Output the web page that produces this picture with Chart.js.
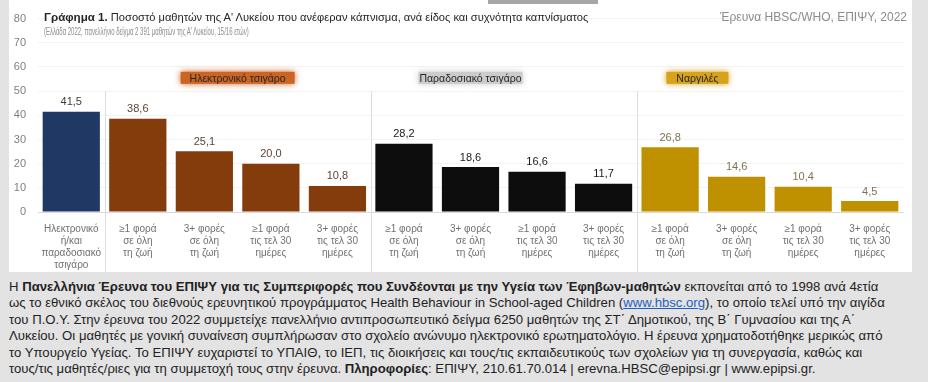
<!DOCTYPE html>
<html>
<head>
<meta charset="utf-8">
<script src="https://cdn.jsdelivr.net/npm/chart.js@4/dist/chart.umd.min.js"></script>
<style>
  body { margin: 0; background: #e3e3e3; width: 928px; height: 382px; overflow: hidden; font-family: "Liberation Sans", Arial, sans-serif; }
  #panel { position: absolute; left: 9px; top: 0; width: 903px; height: 272px; background: #fff; }
  #chartBox { position: absolute; left: 0; top: 0; width: 903px; height: 272px; }
  #topMark { position: absolute; left: 488px; top: 0; width: 110px; height: 4px; background: #a6a6a6; }
  .title { position: absolute; left: 44px; top: 10px; font-size: 11.1px; color: #262626; white-space: nowrap; }
  .title b { font-size: 11.6px; }
  .subtitle { position: absolute; left: 44px; top: 25px; font-size: 10.5px; color: #8c8c8c; white-space: nowrap; transform: scaleX(0.57); transform-origin: left top; }
  .source { position: absolute; right: 21px; top: 10px; font-size: 12px; color: #8c8c8c; white-space: nowrap; }
  #note { position: absolute; left: 9px; top: 279px; font-size: 13.15px; line-height: 16.4px; color: #222; white-space: nowrap; }
  #note a { color: #1f5fbf; text-decoration: underline; }
</style>
</head>
<body>
<div id="panel"><div id="chartBox"><canvas id="smoking_chart_area"></canvas></div></div>
<div id="topMark"></div>
<div class="title"><b>Γράφημα 1.</b> Ποσοστό μαθητών της Α' Λυκείου που ανέφεραν κάπνισμα, ανά είδος και συχνότητα καπνίσματος</div>
<div class="subtitle">(Ελλάδα 2022, πανελλήνιο δείγμα 2 391 μαθητών της Α' Λυκείου, 15/16 ετών)</div>
<div class="source">Έρευνα HBSC/WHO, ΕΠΙΨΥ, 2022</div>
<div id="note">
Η <b>Πανελλήνια Έρευνα του ΕΠΙΨΥ για τις Συμπεριφορές που Συνδέονται με την Υγεία των Έφηβων-μαθητών</b> εκπονείται από το 1998 ανά 4ετία<br>
ως το εθνικό σκέλος του διεθνούς ερευνητικού προγράμματος Health Behaviour in School-aged Children (<a>www.hbsc.org</a>), το οποίο τελεί υπό την αιγίδα<br>
του Π.Ο.Υ. Στην έρευνα του 2022 συμμετείχε πανελλήνιο αντιπροσωπευτικό δείγμα 6250 μαθητών της ΣΤ΄ Δημοτικού, της Β΄ Γυμνασίου και της Α΄<br>
Λυκείου. Οι μαθητές με γονική συναίνεση συμπλήρωσαν στο σχολείο ανώνυμο ηλεκτρονικό ερωτηματολόγιο. Η έρευνα χρηματοδοτήθηκε μερικώς από<br>
το Υπουργείο Υγείας. Το ΕΠΙΨΥ ευχαριστεί το ΥΠΑΙΘ, το ΙΕΠ, τις διοικήσεις και τους/τις εκπαιδευτικούς των σχολείων για τη συνεργασία, καθώς και<br>
τους/τις μαθητές/ριες για τη συμμετοχή τους στην έρευνα. <b>Πληροφορίες</b>: ΕΠΙΨΥ, 210.61.70.014 | erevna.HBSC@epipsi.gr | www.epipsi.gr.
</div>
<script>
"use strict";

// categories and values
var combinedLabel = [["Ηλεκτρονικό", "ή/και", "παραδοσιακό", "τσιγάρο"]];
var frequencyLabels = [
    ["≥1 φορά", "σε όλη", "τη ζωή"],
    ["3+ φορές", "σε όλη", "τη ζωή"],
    ["≥1 φορά", "τις τελ 30", "ημέρες"],
    ["3+ φορές", "τις τελ 30", "ημέρες"]
];
var groupNames = ["Ηλεκτρονικό τσιγάρο", "Παραδοσιακό τσιγάρο", "Ναργιλές"];
var combinedValue = [41.5];
var eCigValues = [38.6, 25.1, 20.0, 10.8];
var cigValues = [28.2, 18.6, 16.6, 11.7];
var hookahValues = [26.8, 14.6, 10.4, 4.5];
var yTicks = [0, 10, 20, 30, 40, 50, 60, 70, 80];

var groupColors = ['#1f3864', '#843c0c', '#0d0d0d', '#bf9000'];
var labelColors = ['#404040', '#5e4537', '#1a1a1a', '#807250'];

var allLabels = combinedLabel.concat(frequencyLabels, frequencyLabels, frequencyLabels);
var allValues = combinedValue.concat(eCigValues, cigValues, hookahValues);
var barGroup = [0, 1, 1, 1, 1, 2, 2, 2, 2, 3, 3, 3, 3];

// group headings: [name, position in category units, box colour, box width]
var groupHeads = [
    [groupNames[0], 2.5, '#cc6424', 114],
    [groupNames[1], 6.0, '#cccccc', 104],
    [groupNames[2], 9.41, '#d6a31a', 62]
];

var decorPlugin = {
    id: 'decor',
    afterDatasetsDraw: function (chart) {
        var ctx = chart.ctx;
        var x = chart.scales.x, y = chart.scales.y;
        var meta = chart.getDatasetMeta(0);
        ctx.save();

        // group separators
        ctx.strokeStyle = '#dedede';
        ctx.lineWidth = 1;
        [0, 4, 8].forEach(function (i) {
            var px = Math.round((x.getPixelForValue(i) + x.getPixelForValue(i + 1)) / 2) + 0.5;
            ctx.beginPath();
            ctx.moveTo(px, y.getPixelForValue(50));
            ctx.lineTo(px, chart.height);
            ctx.stroke();
        });

        // value labels
        ctx.font = '11px "Liberation Sans", Arial, sans-serif';
        ctx.textAlign = 'center';
        ctx.textBaseline = 'bottom';
        meta.data.forEach(function (bar, i) {
            ctx.fillStyle = labelColors[barGroup[i]];
            ctx.fillText(allValues[i].toFixed(1).replace('.', ','), bar.x, bar.y - 4);
        });

        // group headings with glow
        var hy = y.getPixelForValue(55.5);
        ctx.font = '10.5px "Liberation Sans", Arial, sans-serif';
        groupHeads.forEach(function (g) {
            var cx = x.getPixelForValue(0) + g[1] * (x.getPixelForValue(1) - x.getPixelForValue(0));
            ctx.save();
            ctx.shadowColor = g[2];
            ctx.shadowBlur = 6;
            ctx.fillStyle = g[2];
            ctx.fillRect(cx - g[3] / 2, hy - 6, g[3], 12);
            ctx.restore();
            ctx.fillStyle = '#262626';
            ctx.textBaseline = 'middle';
            ctx.fillText(g[0], cx, hy + 1);
        });
        ctx.restore();
    }
};

var smokingChartArea = document.getElementById("smoking_chart_area");
var smokingBarChart = new Chart(smokingChartArea, {
    type: 'bar',
    data: {
        labels: allLabels,
        datasets: [
            {
                label: "Ποσοστό",
                data: allValues,
                backgroundColor: barGroup.map(function (g) { return groupColors[g]; }),
                categoryPercentage: 1,
                barPercentage: 0.86
            }
        ]
    },
    options: {
        responsive: true,
        maintainAspectRatio: false,
        animation: false,
        layout: { padding: { top: 16, right: 9, left: 0, bottom: 0 } },
        plugins: {
            legend: { display: false },
            tooltip: { enabled: false }
        },
        scales: {
            x: {
                grid: { display: false },
                border: { color: '#d9d9d9' },
                ticks: {
                    color: '#707070',
                    padding: 3,
                    maxRotation: 0,
                    autoSkip: false,
                    font: { family: '"Liberation Sans", Arial, sans-serif', size: 10, lineHeight: 1.2 }
                },
                afterFit: function (scale) { scale.height = 60; }
            },
            y: {
                min: 0,
                max: 80,
                afterBuildTicks: function (scale) {
                    scale.ticks = yTicks.map(function (v) { return { value: v }; });
                },
                grid: { color: '#f3f3f3', drawTicks: false },
                border: { display: false },
                ticks: {
                    color: '#808080',
                    padding: 12,
                    font: { family: '"Liberation Sans", Arial, sans-serif', size: 11 }
                },
                afterFit: function (scale) { scale.width = 29; }
            }
        }
    },
    plugins: [decorPlugin]
});
</script>
</body>
</html>
